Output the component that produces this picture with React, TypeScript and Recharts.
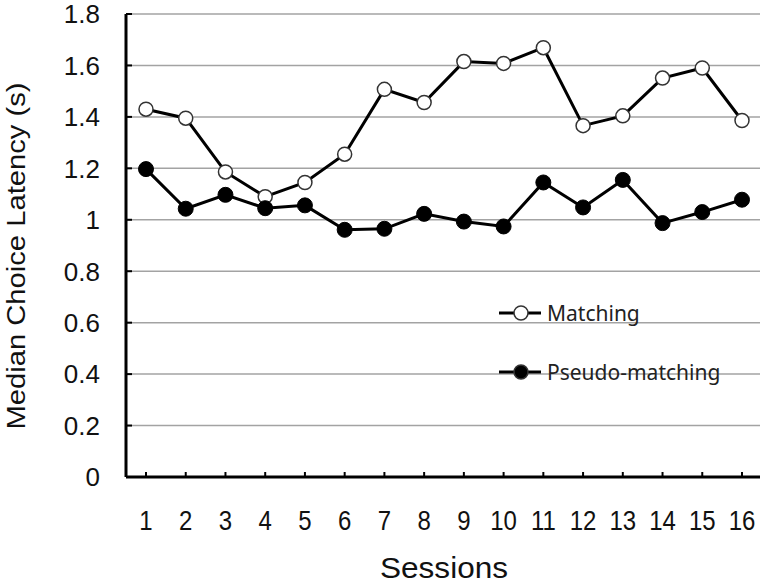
import { LineChart, Line, XAxis, YAxis, CartesianGrid, Legend, Label } from 'recharts'

const sessions = ['1', '2', '3', '4', '5', '6', '7', '8', '9', '10', '11', '12', '13', '14', '15', '16']
const matching = [1.43, 1.395, 1.186, 1.09, 1.145, 1.255, 1.507, 1.456, 1.615, 1.608, 1.669, 1.366, 1.404, 1.551, 1.59, 1.386]
const pseudoMatching = [1.197, 1.043, 1.097, 1.045, 1.056, 0.961, 0.965, 1.023, 0.993, 0.974, 1.145, 1.048, 1.155, 0.987, 1.03, 1.078]
const yTicks = [0, 0.2, 0.4, 0.6, 0.8, 1, 1.2, 1.4, 1.6, 1.8]

const AXIS_FONT = '"Liberation Sans", Arial, sans-serif'
const LEGEND_FONT = '"Noto Sans", "Open Sans", sans-serif'

const data = sessions.map((s, i) => ({
  session: s,
  matching: matching[i],
  pseudo: pseudoMatching[i],
}))

// x ticks: label below, small tick pointing up into the plot
const XTick = (props: any) => {
  const { x, y, payload } = props
  const axisY = y - 36
  const base = y + 17
  return (
    <g>
      <line x1={x} x2={x} y1={axisY} y2={axisY - 5} stroke="#000" strokeWidth={2} />
      <text
        x={x}
        y={0}
        transform={`translate(0 ${base}) scale(1 1.17)`}
        textAnchor="middle"
        fontSize={24}
        fontFamily={AXIS_FONT}
        fill="#111"
      >
        {payload.value}
      </text>
    </g>
  )
}

const YTick = (props: any) => {
  const { x, y, payload } = props
  const axisX = x + 26
  return (
    <g>
      <line x1={axisX} x2={axisX + 6} y1={y} y2={y} stroke="#000" strokeWidth={2} />
      <text x={x} y={y} dy="0.36em" textAnchor="end" fontSize={26} fontFamily={AXIS_FONT} fill="#111">
        {String(payload.value)}
      </text>
    </g>
  )
}

const LegendContent = () => {
  const rows = [
    { name: 'Matching', fill: '#fff' },
    { name: 'Pseudo-matching', fill: '#000' },
  ]
  return (
    <div style={{ fontFamily: LEGEND_FONT, fontSize: 21, color: '#222' }}>
      {rows.map((r, i) => (
        <div key={r.name} style={{ display: 'flex', alignItems: 'center', height: 30, marginBottom: i === 0 ? 29 : 0 }}>
          <svg width={44} height={20} style={{ marginRight: 4 }}>
            <line x1={0} x2={42} y1={10} y2={10} stroke="#000" strokeWidth={3} />
            <circle cx={22} cy={10} r={7} fill={r.fill} stroke="#333" strokeWidth={1.5} />
          </svg>
          <span>{r.name}</span>
        </div>
      ))}
    </div>
  )
}

export default function App() {
  return (
    <div style={{ position: 'absolute', left: 0, top: 0, background: '#fff' }}>
      <LineChart width={763} height={584} data={data} margin={{ top: 14, right: 3, bottom: 0, left: 0 }}>
        <CartesianGrid vertical={false} stroke="#a3a3a3" strokeWidth={1.5} />
        <XAxis
          dataKey="session"
          height={107}
          padding={{ left: 20, right: 18 }}
          axisLine={{ stroke: '#000', strokeWidth: 3 }}
          tickLine={false}
          tickSize={0}
          tickMargin={36}
          tick={<XTick />}
          interval={0}
        >
          <Label
            content={() => (
              <text x={444} y={578} textAnchor="middle" fontSize={29} fontFamily={AXIS_FONT} fill="#111" textLength={128} lengthAdjust="spacingAndGlyphs">
                Sessions
              </text>
            )}
          />
        </XAxis>
        <YAxis
          width={126}
          domain={[0, 1.8]}
          ticks={yTicks}
          axisLine={{ stroke: '#000', strokeWidth: 3 }}
          tickLine={false}
          tickSize={0}
          tickMargin={26}
          tick={<YTick />}
          interval={0}
        >
          <Label
            content={() => (
              <text
                x={25}
                y={256}
                transform="rotate(-90, 25, 256)"
                textAnchor="middle"
                fontSize={26}
                fontFamily={AXIS_FONT}
                fill="#111"
                textLength={347}
                lengthAdjust="spacingAndGlyphs"
              >
                Median Choice Latency (s)
              </text>
            )}
          />
        </YAxis>
        <Legend
          layout="vertical"
          align="center"
          verticalAlign="middle"
          wrapperStyle={{ position: 'absolute', left: 499, top: 298, width: 260 }}
          content={<LegendContent />}
        />
        <Line
          dataKey="matching"
          name="Matching"
          stroke="#000"
          strokeWidth={3}
          dot={{ r: 7, fill: '#fff', stroke: '#333', strokeWidth: 1.5 }}
          isAnimationActive={false}
        />
        <Line
          dataKey="pseudo"
          name="Pseudo-matching"
          stroke="#000"
          strokeWidth={3}
          dot={{ r: 7.5, fill: '#000', stroke: '#000', strokeWidth: 1 }}
          isAnimationActive={false}
        />
      </LineChart>
    </div>
  )
}
